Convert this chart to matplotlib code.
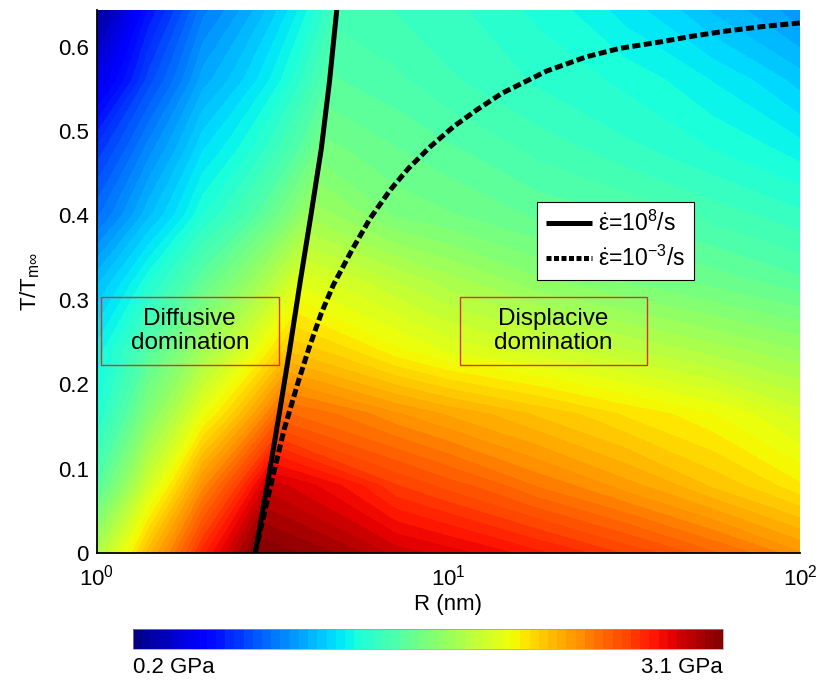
import numpy as np
import matplotlib
matplotlib.use('Agg')
import matplotlib.pyplot as plt
from matplotlib.lines import Line2D
from matplotlib.patches import Rectangle

plt.rcParams['font.family'] = ['Liberation Sans', 'DejaVu Sans']
plt.rcParams['mathtext.fontset'] = 'custom'
plt.rcParams['mathtext.rm'] = 'Liberation Sans'
plt.rcParams['mathtext.it'] = 'Liberation Sans'
plt.rcParams['mathtext.bf'] = 'Liberation Sans:bold'

# ---- field samples (stress, GPa) ----
T_rows = [0.0, 0.08, 0.165, 0.24, 0.32, 0.40, 0.48, 0.56, 0.643]
R_left = [1.0, 1.41, 2.0]
R_ridge = [2.82, 3.05, 3.30, 3.53, 3.78, 4.06, 4.35, 4.59, 4.81]
R_right = [7.08, 10.0, 17.8, 31.6, 56.2, 100.0]
stress = [
    [1.82, 2.27, 2.72, 3.10, 2.90, 2.85, 2.75, 2.64, 2.52, 2.38],
    [1.51, 1.95, 2.40, 2.90, 2.65, 2.58, 2.46, 2.35, 2.23, 2.11],
    [1.33, 1.68, 2.03, 2.52, 2.38, 2.32, 2.23, 2.14, 2.06, 1.94],
    [1.26, 1.52, 1.78, 2.23, 2.07, 2.00, 1.94, 1.88, 1.81, 1.74],
    [1.10, 1.33, 1.56, 2.00, 1.88, 1.81, 1.71, 1.65, 1.59, 1.53],
    [0.87, 1.10, 1.33, 1.77, 1.64, 1.61, 1.55, 1.51, 1.45, 1.39],
    [0.71, 0.95, 1.19, 1.62, 1.56, 1.52, 1.45, 1.39, 1.33, 1.26],
    [0.46, 0.77, 1.04, 1.52, 1.48, 1.43, 1.37, 1.32, 1.24, 1.13],
    [0.26, 0.62, 0.91, 1.45, 1.42, 1.39, 1.32, 1.22, 1.10, 0.98],
]
vmin, vmax = 0.2, 3.1

# ---- boundary lines ----
R_fast = [2.82, 3.05, 3.30, 3.53, 3.78, 4.06, 4.35, 4.59, 4.81]
T_fast = [0.0, 0.08, 0.165, 0.24, 0.32, 0.40, 0.48, 0.56, 0.6435]
R_slow = [2.818, 3.146, 3.404, 3.750, 4.018, 4.345, 4.699, 5.309, 5.984, 6.823,
          7.691, 8.872, 10.33, 12.02, 14.19, 19.01, 24.72, 30.76, 39.96, 49.66,
          61.80, 78.52, 100.0]
T_slow = [0.0, 0.086, 0.146, 0.205, 0.244, 0.284, 0.3173, 0.3588, 0.3964, 0.430,
          0.4557, 0.4814, 0.5051, 0.5249, 0.5447, 0.571, 0.588, 0.598, 0.6055, 0.6125,
          0.6185, 0.6238, 0.628]

label_fast = r'$\dot{\varepsilon}$=10$^{8}$/s'
label_slow = r'$\dot{\varepsilon}$=10$^{-3}$/s'
yticks = [0, 0.1, 0.2, 0.3, 0.4, 0.5, 0.6]
yticklabels = ['0', '0.1', '0.2', '0.3', '0.4', '0.5', '0.6']

# ---- build grid ----
X = np.array([R_left + [r] + R_right for r in R_ridge])
Y = np.array([[t] * X.shape[1] for t in T_rows])
Z = np.array(stress)

fig = plt.figure(figsize=(8.2, 6.87), dpi=100)
ax = fig.add_axes([0.1183, 0.195, 0.8573, 0.790])

levels = np.linspace(vmin, vmax, 65)
cs = ax.contourf(X, Y, Z, levels=levels, cmap='jet', vmin=vmin, vmax=vmax, extend='neither')

lw = 3.6
ax.plot(R_fast, T_fast, color='black', lw=lw, solid_capstyle='butt', solid_joinstyle='round')
ax.plot(R_slow, T_slow, color='black', lw=lw, linestyle=(0, (1.6, 0.7)), dash_capstyle='butt')

ax.set_xscale('log')
ax.set_xlim(1, 100)
ax.set_ylim(0, 0.643)
ax.set_xticks([1, 10, 100])
ax.minorticks_off()
ax.set_yticks(yticks)
ax.set_yticklabels(yticklabels)
ax.tick_params(axis='both', length=0, labelsize=16, pad=6)
ax.tick_params(axis='x', pad=8)
for s in ['top', 'right']:
    ax.spines[s].set_visible(False)
for s in ['left', 'bottom']:
    ax.spines[s].set_linewidth(1.3)

ax.set_xlabel('R (nm)', fontsize=16, labelpad=3)
ax.set_ylabel(r'T/T$_{\mathrm{m}\infty}$', fontsize=16, labelpad=11)

# legend
handles = [Line2D([], [], color='black', lw=lw, solid_capstyle='butt'),
           Line2D([], [], color='black', lw=lw, linestyle=(0, (1.0, 0.5)), dash_capstyle='butt')]
leg = ax.legend(handles, [label_fast, label_slow], loc='upper left',
                bbox_to_anchor=(0.626, 0.647), fontsize=16.5, frameon=True,
                fancybox=False, edgecolor='black', framealpha=1,
                handlelength=2.0, handletextpad=0.25, borderpad=0.4,
                labelspacing=0.4, borderaxespad=0)
leg.get_frame().set_linewidth(0.8)

# region boxes
box_color = '#d8352a'
ax.add_patch(Rectangle((0.0057, 0.346), 0.253, 0.125, transform=ax.transAxes,
                       facecolor='none', edgecolor=box_color, lw=1.0))
ax.add_patch(Rectangle((0.516, 0.346), 0.266, 0.125, transform=ax.transAxes,
                       facecolor='none', edgecolor=box_color, lw=1.0))
ax.text(0.132, 0.409, 'Diffusive\ndomination', transform=ax.transAxes,
        ha='center', va='center', fontsize=17.5, linespacing=1.15)
ax.text(0.649, 0.409, 'Displacive\ndomination', transform=ax.transAxes,
        ha='center', va='center', fontsize=17.5, linespacing=1.15)

# colorbar
cax = fig.add_axes([0.162, 0.056, 0.720, 0.029])
cb = fig.colorbar(cs, cax=cax, orientation='horizontal')
cb.set_ticks([])
cb.outline.set_linewidth(0.5)
cb.outline.set_edgecolor('#999999')
fig.text(0.162, 0.028, '0.2 GPa', ha='left', va='center', fontsize=16)
fig.text(0.882, 0.028, '3.1 GPa', ha='right', va='center', fontsize=16)

fig.savefig('out.png', dpi=100)
